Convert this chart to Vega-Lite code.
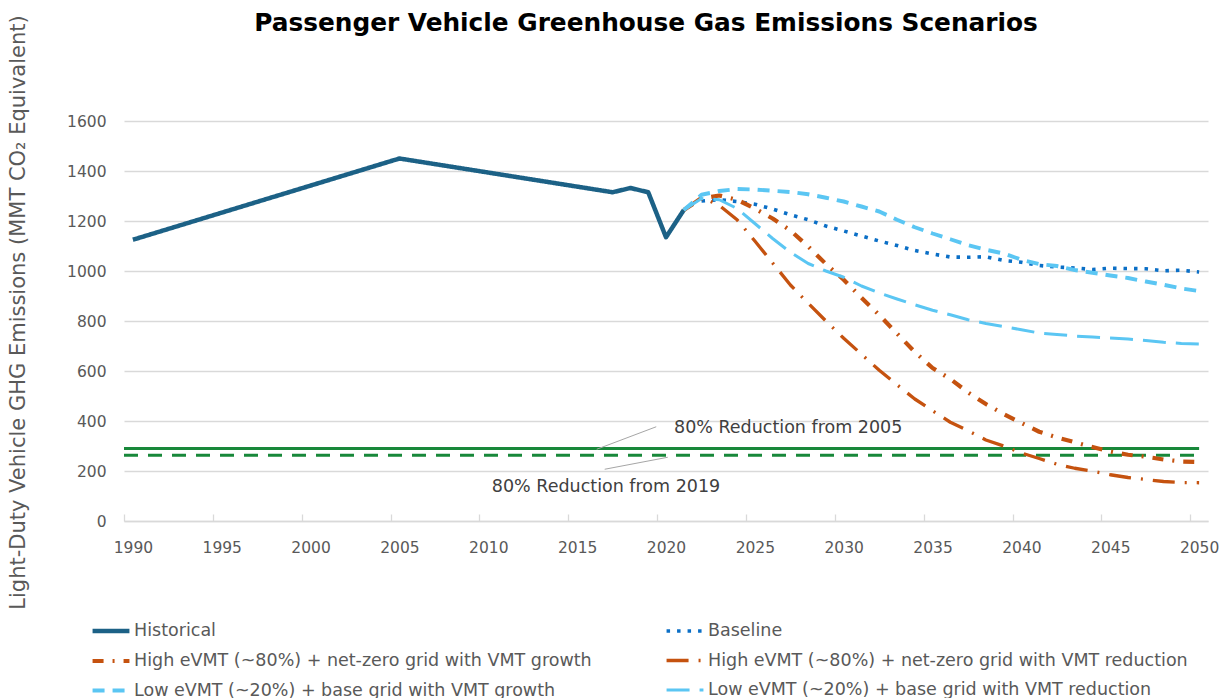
{
  "$schema": "https://vega.github.io/schema/vega-lite/v6.json",
  "width": 1084,
  "height": 400,
  "autosize": {"type": "none"},
  "padding": {"left": 124, "top": 121, "right": 16, "bottom": 177},
  "background": "white",
  "config": {"view": {"stroke": null}, "font": "DejaVu Sans"},
  "title": {
    "text": "Passenger Vehicle Greenhouse Gas Emissions Scenarios",
    "fontSize": 24.8,
    "fontWeight": "bold",
    "color": "#000000",
    "anchor": "middle",
    "frame": "group",
    "dx": -20,
    "offset": -24
  },
  "datasets": {
    "series": [
      {"s": "H", "year": 1990, "v": 1125}, {"s": "H", "year": 2005, "v": 1450}, {"s": "H", "year": 2017, "v": 1315}, {"s": "H", "year": 2018, "v": 1332}, {"s": "H", "year": 2019, "v": 1315}, {"s": "H", "year": 2020, "v": 1135}, {"s": "H", "year": 2021, "v": 1244},
      {"s": "B", "year": 2022, "v": 1280}, {"s": "B", "year": 2023, "v": 1285}, {"s": "B", "year": 2024, "v": 1278}, {"s": "B", "year": 2025, "v": 1267}, {"s": "B", "year": 2026, "v": 1248}, {"s": "B", "year": 2027, "v": 1225}, {"s": "B", "year": 2028, "v": 1205}, {"s": "B", "year": 2029, "v": 1180}, {"s": "B", "year": 2030, "v": 1160}, {"s": "B", "year": 2031, "v": 1140}, {"s": "B", "year": 2032, "v": 1120}, {"s": "B", "year": 2033, "v": 1102}, {"s": "B", "year": 2034, "v": 1082}, {"s": "B", "year": 2035, "v": 1068}, {"s": "B", "year": 2036, "v": 1056}, {"s": "B", "year": 2037, "v": 1055}, {"s": "B", "year": 2038, "v": 1057}, {"s": "B", "year": 2039, "v": 1042}, {"s": "B", "year": 2040, "v": 1035}, {"s": "B", "year": 2041, "v": 1022}, {"s": "B", "year": 2042, "v": 1016}, {"s": "B", "year": 2043, "v": 1012}, {"s": "B", "year": 2044, "v": 1006}, {"s": "B", "year": 2045, "v": 1011}, {"s": "B", "year": 2046, "v": 1010}, {"s": "B", "year": 2047, "v": 1009}, {"s": "B", "year": 2048, "v": 1001}, {"s": "B", "year": 2049, "v": 1003}, {"s": "B", "year": 2050, "v": 996},
      {"s": "HG", "year": 2021, "v": 1244}, {"s": "HG", "year": 2022, "v": 1290}, {"s": "HG", "year": 2023, "v": 1302}, {"s": "HG", "year": 2024, "v": 1285}, {"s": "HG", "year": 2025, "v": 1250}, {"s": "HG", "year": 2026, "v": 1210}, {"s": "HG", "year": 2027, "v": 1162}, {"s": "HG", "year": 2028, "v": 1098}, {"s": "HG", "year": 2029, "v": 1028}, {"s": "HG", "year": 2030, "v": 965}, {"s": "HG", "year": 2031, "v": 893}, {"s": "HG", "year": 2032, "v": 824}, {"s": "HG", "year": 2033, "v": 750}, {"s": "HG", "year": 2034, "v": 676}, {"s": "HG", "year": 2035, "v": 612}, {"s": "HG", "year": 2036, "v": 568}, {"s": "HG", "year": 2037, "v": 514}, {"s": "HG", "year": 2038, "v": 468}, {"s": "HG", "year": 2039, "v": 428}, {"s": "HG", "year": 2040, "v": 392}, {"s": "HG", "year": 2041, "v": 357}, {"s": "HG", "year": 2042, "v": 334}, {"s": "HG", "year": 2043, "v": 315}, {"s": "HG", "year": 2044, "v": 296}, {"s": "HG", "year": 2045, "v": 278}, {"s": "HG", "year": 2046, "v": 265}, {"s": "HG", "year": 2047, "v": 257}, {"s": "HG", "year": 2048, "v": 246}, {"s": "HG", "year": 2049, "v": 238}, {"s": "HG", "year": 2050, "v": 236},
      {"s": "HR", "year": 2021, "v": 1244}, {"s": "HR", "year": 2022, "v": 1295}, {"s": "HR", "year": 2023, "v": 1262}, {"s": "HR", "year": 2024, "v": 1205}, {"s": "HR", "year": 2025, "v": 1120}, {"s": "HR", "year": 2026, "v": 1032}, {"s": "HR", "year": 2027, "v": 944}, {"s": "HR", "year": 2028, "v": 871}, {"s": "HR", "year": 2029, "v": 800}, {"s": "HR", "year": 2030, "v": 731}, {"s": "HR", "year": 2031, "v": 667}, {"s": "HR", "year": 2032, "v": 603}, {"s": "HR", "year": 2033, "v": 545}, {"s": "HR", "year": 2034, "v": 488}, {"s": "HR", "year": 2035, "v": 441}, {"s": "HR", "year": 2036, "v": 395}, {"s": "HR", "year": 2037, "v": 361}, {"s": "HR", "year": 2038, "v": 324}, {"s": "HR", "year": 2039, "v": 300}, {"s": "HR", "year": 2040, "v": 272}, {"s": "HR", "year": 2041, "v": 250}, {"s": "HR", "year": 2042, "v": 227}, {"s": "HR", "year": 2043, "v": 211}, {"s": "HR", "year": 2044, "v": 199}, {"s": "HR", "year": 2045, "v": 185}, {"s": "HR", "year": 2046, "v": 174}, {"s": "HR", "year": 2047, "v": 166}, {"s": "HR", "year": 2048, "v": 158}, {"s": "HR", "year": 2049, "v": 154}, {"s": "HR", "year": 2050, "v": 153},
      {"s": "LG", "year": 2021, "v": 1244}, {"s": "LG", "year": 2022, "v": 1305}, {"s": "LG", "year": 2023, "v": 1320}, {"s": "LG", "year": 2024, "v": 1328}, {"s": "LG", "year": 2025, "v": 1326}, {"s": "LG", "year": 2026, "v": 1321}, {"s": "LG", "year": 2027, "v": 1316}, {"s": "LG", "year": 2028, "v": 1307}, {"s": "LG", "year": 2029, "v": 1293}, {"s": "LG", "year": 2030, "v": 1278}, {"s": "LG", "year": 2031, "v": 1258}, {"s": "LG", "year": 2032, "v": 1238}, {"s": "LG", "year": 2033, "v": 1205}, {"s": "LG", "year": 2034, "v": 1175}, {"s": "LG", "year": 2035, "v": 1150}, {"s": "LG", "year": 2036, "v": 1127}, {"s": "LG", "year": 2037, "v": 1103}, {"s": "LG", "year": 2038, "v": 1085}, {"s": "LG", "year": 2039, "v": 1070}, {"s": "LG", "year": 2040, "v": 1045}, {"s": "LG", "year": 2041, "v": 1028}, {"s": "LG", "year": 2042, "v": 1020}, {"s": "LG", "year": 2043, "v": 1004}, {"s": "LG", "year": 2044, "v": 993}, {"s": "LG", "year": 2045, "v": 982}, {"s": "LG", "year": 2046, "v": 972}, {"s": "LG", "year": 2047, "v": 958}, {"s": "LG", "year": 2048, "v": 945}, {"s": "LG", "year": 2049, "v": 930}, {"s": "LG", "year": 2050, "v": 920},
      {"s": "LR", "year": 2021, "v": 1244}, {"s": "LR", "year": 2022, "v": 1290}, {"s": "LR", "year": 2023, "v": 1285}, {"s": "LR", "year": 2024, "v": 1250}, {"s": "LR", "year": 2025, "v": 1190}, {"s": "LR", "year": 2026, "v": 1130}, {"s": "LR", "year": 2027, "v": 1075}, {"s": "LR", "year": 2028, "v": 1030}, {"s": "LR", "year": 2029, "v": 1000}, {"s": "LR", "year": 2030, "v": 975}, {"s": "LR", "year": 2031, "v": 940}, {"s": "LR", "year": 2032, "v": 912}, {"s": "LR", "year": 2033, "v": 888}, {"s": "LR", "year": 2034, "v": 865}, {"s": "LR", "year": 2035, "v": 843}, {"s": "LR", "year": 2036, "v": 825}, {"s": "LR", "year": 2037, "v": 805}, {"s": "LR", "year": 2038, "v": 790}, {"s": "LR", "year": 2039, "v": 778}, {"s": "LR", "year": 2040, "v": 765}, {"s": "LR", "year": 2041, "v": 752}, {"s": "LR", "year": 2042, "v": 746}, {"s": "LR", "year": 2043, "v": 740}, {"s": "LR", "year": 2044, "v": 736}, {"s": "LR", "year": 2045, "v": 732}, {"s": "LR", "year": 2046, "v": 728}, {"s": "LR", "year": 2047, "v": 722}, {"s": "LR", "year": 2048, "v": 715}, {"s": "LR", "year": 2049, "v": 710}, {"s": "LR", "year": 2050, "v": 708}
    ],
    "targets": [
      {"name": "2005", "start": 1989.5, "end": 2050, "v": 290},
      {"name": "2019", "start": 1989.5, "end": 2050, "v": 263}
    ],
    "notes": [
      {"label": "80% Reduction from 2005", "year": 2020.45, "v": 371},
      {"label": "80% Reduction from 2019", "year": 2010.2, "v": 137}
    ],
    "leaders": [
      {"x1": 2016.1, "y1": 287, "x2": 2019.45, "y2": 377},
      {"x1": 2020.1, "y1": 255, "x2": 2016.55, "y2": 207}
    ]
  },
  "layer": [
    {
      "data": {"name": "targets"},
      "transform": [{"filter": "datum.name == '2005'"}],
      "mark": {"type": "rule", "color": "#18883A", "strokeWidth": 3},
      "encoding": {
        "x": {"field": "start", "type": "quantitative", "scale": {"domain": [1989.5, 2050.5], "nice": false, "zero": false},
          "axis": {
            "values": [1990, 1995, 2000, 2005, 2010, 2015, 2020, 2025, 2030, 2035, 2040, 2045, 2050],
            "format": "d", "title": null, "grid": false,
            "tickOffset": -8.885, "labelOffset": 8.885,
            "tickSize": -7, "tickColor": "#D9D9D9", "tickWidth": 1.3,
            "domainColor": "#D9D9D9", "domainWidth": 1.5,
            "labelFontSize": 15.5, "labelColor": "#595959", "labelPadding": 26
          }},
        "x2": {"field": "end"},
        "y": {"field": "v", "type": "quantitative", "scale": {"domain": [0, 1600], "nice": false},
          "axis": {
            "values": [0, 200, 400, 600, 800, 1000, 1200, 1400, 1600],
            "format": "d",
            "title": "Light-Duty Vehicle GHG Emissions  (MMT CO\u2082 Equivalent)",
            "titleFontSize": 21, "titleFontWeight": "normal", "titleColor": "#595959", "titlePadding": 38,
            "titleY": 191,
            "grid": true, "gridColor": "#D9D9D9", "gridWidth": 1.3,
            "domain": false, "ticks": false,
            "labelFontSize": 15.5, "labelColor": "#595959", "labelPadding": 18
          }}
      }
    },
    {
      "data": {"name": "targets"},
      "transform": [{"filter": "datum.name == '2019'"}],
      "mark": {"type": "rule", "color": "#18883A", "strokeWidth": 3, "strokeDash": [14, 10]},
      "encoding": {
        "x": {"field": "start", "type": "quantitative"},
        "x2": {"field": "end"},
        "y": {"field": "v", "type": "quantitative"}
      }
    },
    {
      "data": {"name": "leaders"},
      "mark": {"type": "rule", "color": "#A6A6A6", "strokeWidth": 1},
      "encoding": {
        "x": {"field": "x1", "type": "quantitative"},
        "x2": {"field": "x2"},
        "y": {"field": "y1", "type": "quantitative"},
        "y2": {"field": "y2"}
      }
    },
    {
      "data": {"name": "notes"},
      "mark": {"type": "text", "align": "left", "baseline": "middle", "fontSize": 17.5, "color": "#404040"},
      "encoding": {
        "x": {"field": "year", "type": "quantitative"},
        "y": {"field": "v", "type": "quantitative"},
        "text": {"field": "label"}
      }
    },
    {
      "data": {"name": "series"},
      "mark": {"type": "line", "strokeJoin": "round"},
      "encoding": {
        "x": {"field": "year", "type": "quantitative"},
        "y": {"field": "v", "type": "quantitative"},
        "color": {
          "field": "s", "type": "nominal",
          "scale": {"domain": ["H", "HG", "LG", "B", "HR", "LR"], "range": ["#1C6186", "#C5520F", "#5BC6F3", "#0B6FC6", "#C5520F", "#5BC6F3"]},
          "legend": {
            "title": null, "orient": "none", "legendX": -34, "legendY": 489, "columns": 2, "columnPadding": 67,
            "rowPadding": 0, "symbolType": "stroke", "symbolSize": 1360, "labelOffset": 2,
            "labelFontSize": 17.5, "labelColor": "#595959", "labelLimit": 700,
            "labelExpr": "{'H':'Historical','B':'Baseline','HG':'High eVMT (~80%) + net-zero grid with VMT growth','HR':'High eVMT (~80%) + net-zero grid with VMT reduction','LG':'Low eVMT (~20%) + base grid with VMT growth','LR':'Low eVMT (~20%) + base grid with VMT reduction'}[datum.label]"
          }
        },
        "strokeDash": {
          "field": "s", "type": "nominal",
          "scale": {"domain": ["H", "HG", "LG", "B", "HR", "LR"], "range": [[1, 0], [11, 9, 2, 9], [12, 8], [3.5, 7], [22, 10, 2, 10], [23, 10]]}
        },
        "strokeWidth": {
          "field": "s", "type": "nominal",
          "scale": {"domain": ["H", "HG", "LG", "B", "HR", "LR"], "range": [4.5, 3, 3.5, 4, 3, 3.5]}
        }
      }
    }
  ]
}
